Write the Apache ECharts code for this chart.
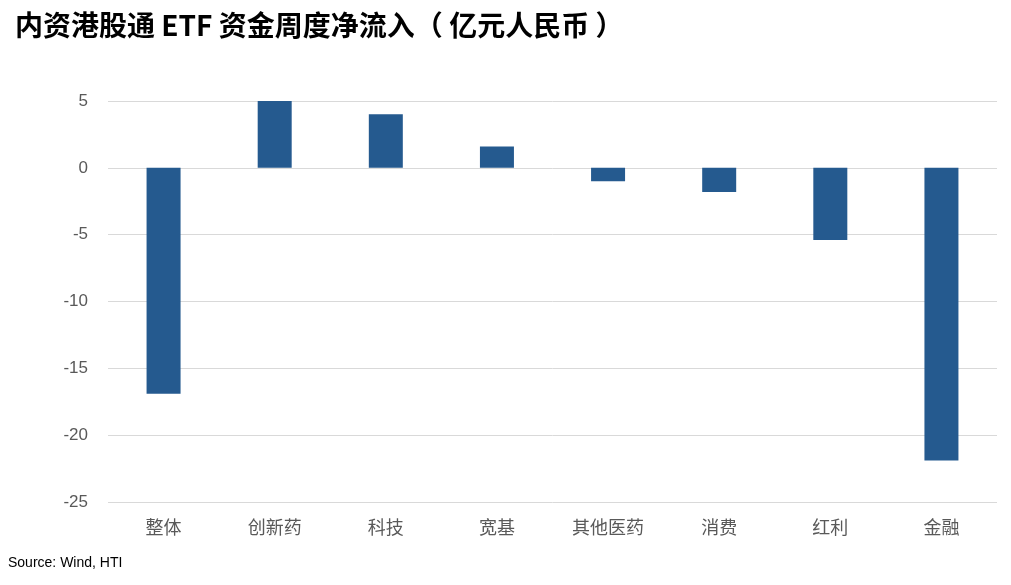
<!DOCTYPE html>
<html><head><meta charset="utf-8">
<script src="https://cdn.jsdelivr.net/npm/echarts@6/dist/echarts.min.js"></script>
<style>html,body{margin:0;padding:0;background:#fff}#c{width:1011px;height:585px}</style>
</head><body><div id="c"></div>
<script>
const categories = ['整体','创新药','科技','宽基','其他医药','消费','红利','金融'];
const values = [-16.9, 5.0, 4.0, 1.6, -1.0, -1.8, -5.4, -21.9];
const yTicks = [5, 0, -5, -10, -15, -20, -25];
const chart = echarts.init(document.getElementById('c'));
chart.setOption({
  backgroundColor:'#fff',
  animation:false,
  title:{text:'内资港股通 ETF 资金周度净流入（ 亿元人民币 ）',left:10,top:6,
    textStyle:{fontFamily:'Noto Sans CJK SC',fontSize:28,fontWeight:'bold',color:'#000'}},
  graphic:[{type:'text',left:8,top:556,style:{text:'Source: Wind, HTI',font:'14px "Liberation Sans", sans-serif',fill:'#000'}}],
  grid:{left:108,right:14,top:101,bottom:83},
  xAxis:{type:'category',data:categories,axisLine:{show:false},axisTick:{show:false},
    axisLabel:{fontFamily:'Noto Sans CJK SC',fontSize:18,color:'#595959',margin:16}},
  yAxis:{type:'value',min:-25,max:5,interval:5,
    axisLabel:{fontFamily:'Liberation Sans',fontSize:17,color:'#595959',margin:20},
    splitLine:{lineStyle:{color:'#d9d9d9',width:1}},axisLine:{show:false},axisTick:{show:false}},
  series:[{type:'bar',data:values,barWidth:34,itemStyle:{color:'#255A8F'}}]
});
</script></body></html>
